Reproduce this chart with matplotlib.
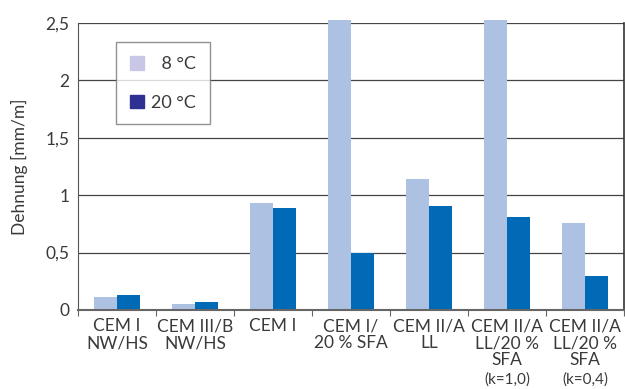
import matplotlib
matplotlib.use("Agg")
import matplotlib.pyplot as plt
import numpy as np
from matplotlib.patches import Patch

# data
categories = ["CEM I\nNW/HS", "CEM III/B\nNW/HS", "CEM I", "CEM I/\n20 % SFA",
              "CEM II/A\nLL", "CEM II/A\nLL/20 %\nSFA", "CEM II/A\nLL/20 %\nSFA"]
notes = ["", "", "", "", "", "(k=1,0)", "(k=0,4)"]
val_8c = [0.11, 0.05, 0.93, 2.53, 1.14, 2.53, 0.76]
val_20c = [0.13, 0.07, 0.89, 0.50, 0.905, 0.81, 0.30]
yticks = [0, 0.5, 1, 1.5, 2, 2.5]
ytick_labels = ["0", "0,5", "1", "1,5", "2", "2,5"]

TXT = "#3a3a3a"
plt.rcParams["font.family"] = ["Lato", "DejaVu Sans"]

fig = plt.figure(figsize=(6.25, 3.89), dpi=100)
ax = fig.add_axes([78 / 625, 1 - 310 / 389, 546 / 625, 287 / 389])

x = np.arange(len(categories))
w = 0.29
ax.bar(x - w / 2, val_8c, w, color="#adc2e3", zorder=2, clip_on=False)
ax.bar(x + w / 2, val_20c, w, color="#006ab7", zorder=2, clip_on=False)

ax.set_xlim(-0.5, len(categories) - 0.5)
ax.set_ylim(0, 2.5)
ax.set_yticks(yticks)
ax.set_yticklabels(ytick_labels, color=TXT, fontsize=12.5)
ax.yaxis.grid(True, color="#444444", lw=0.9)
ax.set_axisbelow(True)
ax.tick_params(axis="y", length=0, pad=6)

# group boundaries as ticks, labels drawn as text
ax.set_xticks(np.arange(len(categories) + 1) - 0.5)
ax.set_xticklabels([])
ax.tick_params(axis="x", direction="out", length=4, color="#666666")
for i, (lab, note) in enumerate(zip(categories, notes)):
    ax.text(i, -0.07, lab, ha="center", va="top", fontsize=12.5, color=TXT, linespacing=1.08)
    if note:
        ax.text(i, -0.545, note, ha="center", va="top", fontsize=11, color=TXT)

ax.spines["top"].set_visible(False)
ax.spines["left"].set_color("#555555")
ax.spines["right"].set_color("#333333")
ax.spines["right"].set_linewidth(1.2)
ax.spines["bottom"].set_color("#666666")
ax.spines["bottom"].set_linewidth(1.5)

ax.set_ylabel("Dehnung [mm/m]", color=TXT, fontsize=12.5, labelpad=13)

handles = [Patch(color="#c8c8e6", label="\u20078 °C"), Patch(color="#2e3192", label="20 °C")]
leg = ax.legend(handles=handles, loc="upper left", bbox_to_anchor=(0.07, 0.933),
                frameon=True, fancybox=False, edgecolor="#777777", fontsize=13,
                handlelength=0.8, handleheight=0.8, handletextpad=0.4,
                labelspacing=1.25, borderpad=0.75, borderaxespad=0)
leg.get_frame().set_linewidth(1.0)
for t in leg.get_texts():
    t.set_color(TXT)

fig.savefig("out.png", dpi=100)
